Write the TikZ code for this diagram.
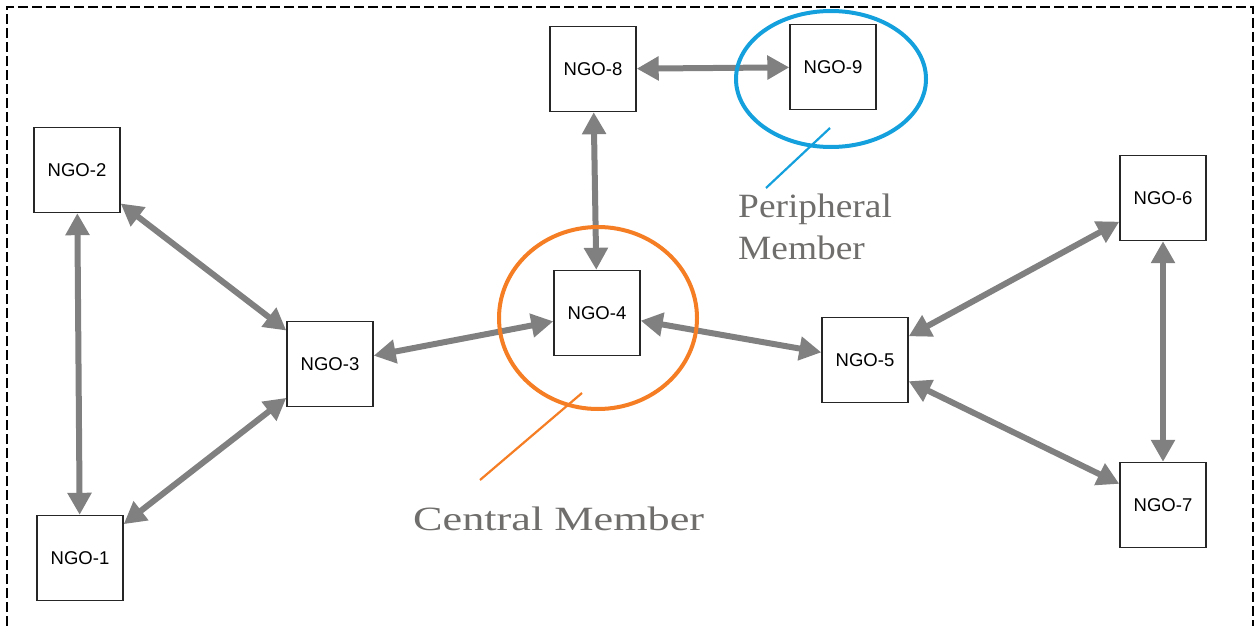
\documentclass[tikz,border=0pt]{standalone}
\usepackage{fontspec}
\usepackage{graphicx}
\setmainfont{Liberation Serif}
\newfontfamily\labelfont{Liberation Sans}
\usetikzlibrary{arrows.meta,shapes.geometric}
\definecolor{linkgray}{RGB}{128,128,128}
\definecolor{notegray}{RGB}{112,110,108}
\definecolor{centralorange}{RGB}{245,125,35}
\definecolor{periphblue}{RGB}{20,160,220}
\tikzset{
  ngo/.style={draw=black!85, line width=1.4pt, fill=white, minimum width=86pt,
    minimum height=85pt, inner sep=0pt, font=\labelfont\fontsize{18.5}{22}\selectfont},
  link/.style={draw=linkgray, line width=6pt,
    {Triangle[length=22pt,width=23pt]}-{Triangle[length=22pt,width=23pt]}},
  note/.style={text=notegray, inner sep=0pt, align=left,
    font=\fontsize{34}{40}\selectfont},
  ring/.style={line width=4pt}
}
\begin{document}
\begin{tikzpicture}[x=1pt, y=-1pt]
  \useasboundingbox (0,0) rectangle (1255,626);
  % frame, open at the bottom
  \draw[line width=2.6pt, dash pattern=on 10pt off 4pt]
    (7,626) -- (7,7) -- (1253,7) -- (1253,626);

  % member organisations
  \node[ngo] (n2) at (77,170) {NGO-2};
  \node[ngo] (n1) at (80,558) {NGO-1};
  \node[ngo] (n3) at (330,364) {NGO-3};
  \node[ngo] (n4) at (597,313) {NGO-4};
  \node[ngo] (n8) at (593,69) {NGO-8};
  \node[ngo] (n9) at (833,67) {NGO-9};
  \node[ngo] (n5) at (865,360) {NGO-5};
  \node[ngo] (n6) at (1163,198) {NGO-6};
  \node[ngo] (n7) at (1163,505) {NGO-7};

  % ties between members
  \draw[link] (n2) -- (n1);
  \draw[link] (n2) -- (n3);
  \draw[link] (n1) -- (n3);
  \draw[link] (n3) -- (n4);
  \draw[link] (n8) -- (n4);
  \draw[link] (n8) -- (n9);
  \draw[link] (n4) -- (n5);
  \draw[link] (n5) -- (n6);
  \draw[link] (n5) -- (n7);
  \draw[link] (n6) -- (n7);

  % central member highlight
  \node[draw=centralorange, ring, ellipse, minimum width=198pt, minimum height=182pt,
        inner sep=0pt] (cring) at (598,318) {};
  \coordinate (ctail) at (480,480);
  \draw[centralorange, line width=2.2pt] (ctail) -- (582,393);
  \node[note, anchor=base west] (ctext) at (413,530)
    {\scalebox{1.3}[1]{Central Member}};

  % peripheral member highlight
  \node[draw=periphblue, ring, ellipse, minimum width=190pt, minimum height=136pt,
        inner sep=0pt] (pring) at (831,79) {};
  \coordinate (ptail) at (766,188);
  \draw[periphblue, line width=2.2pt] (ptail) -- (830,128);
  \node[note, anchor=base west] (ptext1) at (738,217)
    {\scalebox{1.1}[1]{Peripheral}};
  \node[note, anchor=base west] (ptext2) at (738,259)
    {\scalebox{1.1}[1]{Member}};
\end{tikzpicture}
\end{document}
